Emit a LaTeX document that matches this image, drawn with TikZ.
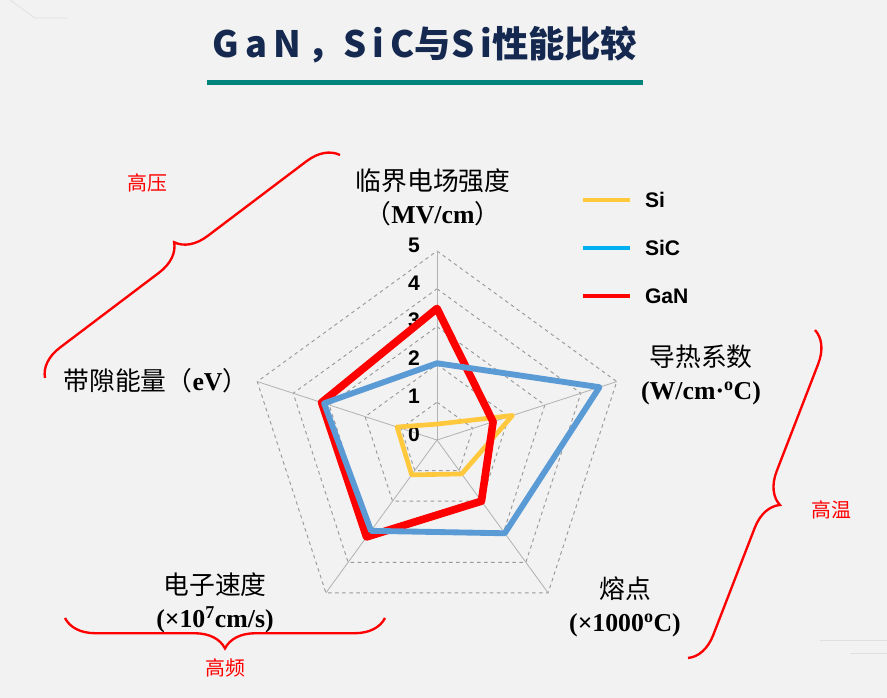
\documentclass[tikz,border=0pt]{standalone}
\usepackage{fontspec}
\setmainfont{Liberation Serif}
\setsansfont{Liberation Sans}
\newfontfamily\cjk{Noto Sans CJK SC}
\usetikzlibrary{calc,decorations.pathreplacing}
\definecolor{bgGrey}{HTML}{F2F2F2}
\definecolor{titleBlue}{HTML}{142850}
\definecolor{barTeal}{HTML}{00847C}
\definecolor{siYellow}{HTML}{FFC83D}
\definecolor{sicBlue}{HTML}{5B9BD5}
\definecolor{sicCyan}{HTML}{00B0F0}
\begin{document}
\begin{tikzpicture}[x=0.03cm,y=0.03cm,
    spoke/.style={gray!60, line width=0.7pt},
    ring/.style={gray!80, dashed, line width=0.8pt},
    axislabel/.style={font=\fontsize{22}{26}\selectfont, align=center, inner sep=1pt},
    tick/.style={font=\sffamily\bfseries\fontsize{18}{18}\selectfont, inner sep=0},
    series/.style={line join=round, line cap=round},
    markbrace/.style={red, line width=2pt, decorate, decoration={brace, amplitude=26}},
    marklabel/.style={red, font=\cjk\fontsize{17}{17}\selectfont}]

  \fill[bgGrey] (0,0) rectangle (887,698);
  \useasboundingbox (0,0) rectangle (887,698);
  % faint corner decoration
  \draw[gray!25, line width=0.6pt] (10,698) -- (35,680) -- (68,680);
  \draw[gray!25, line width=0.6pt] (887,58) -- (820,58);
  \draw[gray!25, line width=0.6pt] (887,45) -- (850,45);

  % title
  \node (title) at (425,653) {\cjk\bfseries\fontsize{31}{34}\selectfont\color{titleBlue}G\,a\,N\,，S\,i\,C与S\,i性能比较};
  \fill[barTeal] (207,613) rectangle (643,618);

  % radar grid
  \coordinate (c) at (437,258);
  \foreach \k in {1,...,5}
    \draw[ring] ($(c)+(90:\k*37.8)$) -- ($(c)+(18:\k*37.8)$) -- ($(c)+(-54:\k*37.8)$)
      -- ($(c)+(-126:\k*37.8)$) -- ($(c)+(162:\k*37.8)$) -- cycle;
  \foreach \a in {90,18,-54,-126,162}
    \draw[spoke] (c) -- ($(c)+(\a:189)$);
  \foreach \k in {0,...,5}
    \node[tick] (tick\k) at ($(c)+(-23,\k*37.8+6)$) {\k};

  % series
  \draw[series, siYellow, line width=4pt] ($(c)+(90:0.42*37.8)$) -- ($(c)+(18:2.1*37.8)$)
    -- ($(c)+(-54:1.11*37.8)$) -- ($(c)+(-126:1.14*37.8)$) -- ($(c)+(162:1.11*37.8)$) -- cycle;
  \draw[series, red, line width=6.5pt] ($(c)+(90:3.48*37.8)$) -- ($(c)+(18:1.56*37.8)$)
    -- ($(c)+(-54:2.0*37.8)$) -- ($(c)+(-126:3.17*37.8)$) -- ($(c)+(162:3.21*37.8)$) -- cycle;
  \draw[series, sicBlue, line width=5pt] ($(c)+(90:2.03*37.8)$) -- ($(c)+(18:4.52*37.8)$)
    -- ($(c)+(-54:3.05*37.8)$) -- ($(c)+(-126:2.97*37.8)$) -- ($(c)+(162:3.14*37.8)$) -- cycle;

  % axis labels
  \node[axislabel] (field) at (433,501) {{\cjk 临界电场强度}\\[2pt]{\cjk （}\textbf{MV/cm}{\cjk ）}};
  \node[axislabel] (heat) at (701,323) {{\cjk 导热系数}\\[2pt]\textbf{(W/cm·$^{\mathbf{o}}$C)}};
  \node[axislabel] (melt) at (625,91) {{\cjk 熔点}\\[2pt]\textbf{(×1000$^{\mathbf{o}}$C)}};
  \node[axislabel] (speed) at (215,95) {{\cjk 电子速度}\\[2pt]\textbf{(×10$^{\mathbf{7}}$cm/s)}};
  \node[axislabel] (gap) at (156,317) {{\cjk 带隙能量（}\textbf{eV}{\cjk ）}};

  % legend
  \draw[siYellow, line width=3pt] (583,498) -- (630,498) node[right=8pt, black, font=\sffamily\bfseries\fontsize{18}{18}\selectfont] (legSi) {Si};
  \draw[sicCyan, line width=3pt] (583,450) -- (630,450) node[right=8pt, black, font=\sffamily\bfseries\fontsize{18}{18}\selectfont] (legSiC) {SiC};
  \draw[red, line width=3pt] (583,402) -- (630,402) node[right=8pt, black, font=\sffamily\bfseries\fontsize{18}{18}\selectfont] (legGaN) {GaN};

  % braces
  \draw[markbrace] (45,320) -- (340,543);
  \node[marklabel] (hv) at (147,515) {高压};
  \draw[markbrace] (815,368) -- (688,40);
  \node[marklabel] (ht) at (831,188) {高温};
  \draw[markbrace] (385,80) -- (65,80);
  \node[marklabel] (hf) at (225,30) {高频};
\end{tikzpicture}
\end{document}
